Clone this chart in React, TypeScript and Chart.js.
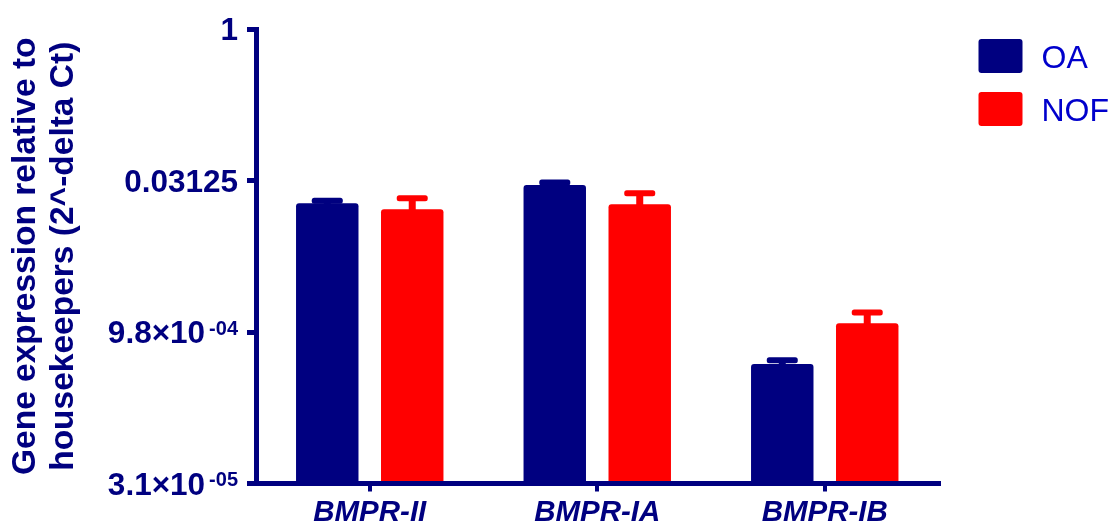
import React, { useEffect, useRef } from 'react';
import { Chart, registerables } from 'chart.js';

Chart.register(...registerables);

const categories = ['BMPR-II', 'BMPR-IA', 'BMPR-IB'];
const seriesLabels = ['OA', 'NOF'];
const oaMeans = [0.01856, 0.0282, 0.000469];
const nofMeans = [0.01623, 0.01814, 0.001193];
const oaUpper = [0.0197, 0.0299, 0.000511];
const nofUpper = [0.0208, 0.0234, 0.001529];
const yTickValues = [1, 0.03125, 0.0009765625, 0.000030517578125];
const yTickMantissas = ['1', '0.03125', '9.8×10', '3.1×10'];
const yTickExponents = ['', '', '-04', '-05'];
const yMin = 0.000030517578125;
const yMax = 1;
const yTitle = ['Gene expression relative to', 'housekeepers (2^-delta Ct)'];

const NAVY = '#000080';
const RED = '#FF0000';
const LEGEND_TEXT = '#0000CC';
const FONT = "'Liberation Sans', Arial, Helvetica, sans-serif";
const seriesColors = [NAVY, RED];
const seriesUpper = [oaUpper, nofUpper];

function roundRect(ctx: CanvasRenderingContext2D, x: number, y: number, w: number, h: number, r: number) {
  ctx.beginPath();
  ctx.moveTo(x + r, y);
  ctx.lineTo(x + w - r, y);
  ctx.arcTo(x + w, y, x + w, y + r, r);
  ctx.lineTo(x + w, y + h - r);
  ctx.arcTo(x + w, y + h, x + w - r, y + h, r);
  ctx.lineTo(x + r, y + h);
  ctx.arcTo(x, y + h, x, y + h - r, r);
  ctx.lineTo(x, y + r);
  ctx.arcTo(x, y, x + r, y, r);
  ctx.closePath();
  ctx.fill();
}

const errorBarPlugin = {
  id: 'errorBars',
  afterDatasetsDraw(chart: any) {
    const ctx: CanvasRenderingContext2D = chart.ctx;
    const yScale = chart.scales.y;
    chart.data.datasets.forEach((_ds: any, di: number) => {
      const meta = chart.getDatasetMeta(di);
      meta.data.forEach((bar: any, i: number) => {
        const ey = yScale.getPixelForValue(seriesUpper[di][i]);
        const top = bar.y;
        ctx.save();
        ctx.fillStyle = seriesColors[di];
        if (top - ey > 0) ctx.fillRect(bar.x - 3.5, ey, 7, top - ey + 1);
        roundRect(ctx, bar.x - 15.5, ey - 3, 31, 6, 2.5);
        ctx.restore();
      });
    });
  },
};

const yLabelPlugin = {
  id: 'yLabels',
  afterDraw(chart: any) {
    const ctx: CanvasRenderingContext2D = chart.ctx;
    const yScale = chart.scales.y;
    const rightX = chart.chartArea.left - 18;
    ctx.save();
    ctx.fillStyle = NAVY;
    ctx.textBaseline = 'alphabetic';
    yTickValues.forEach((v, i) => {
      const py = yScale.getPixelForValue(v);
      const exp = yTickExponents[i];
      ctx.font = `bold 20px ${FONT}`;
      const ew = exp ? ctx.measureText(exp).width : 0;
      ctx.font = `bold 31.5px ${FONT}`;
      ctx.textAlign = 'right';
      ctx.fillText(yTickMantissas[i], rightX - ew - (exp ? 4 : 0), py + 11);
      if (exp) {
        ctx.font = `bold 20px ${FONT}`;
        ctx.textAlign = 'left';
        ctx.fillText(exp, rightX - ew, py + 2.5);
      }
    });
    ctx.restore();
  },
};

const legendPlugin = {
  id: 'sideLegend',
  afterDraw(chart: any) {
    const ctx: CanvasRenderingContext2D = chart.ctx;
    const left = chart.chartArea.right + 40;
    const top0 = chart.chartArea.top + 10;
    ctx.save();
    chart.data.datasets.forEach((ds: any, di: number) => {
      const top = top0 + di * 53;
      ctx.fillStyle = seriesColors[di];
      roundRect(ctx, left, top, 44, 34, 3);
      ctx.fillStyle = LEGEND_TEXT;
      ctx.font = `32px ${FONT}`;
      ctx.textAlign = 'left';
      ctx.textBaseline = 'alphabetic';
      ctx.fillText(ds.label, left + 63, top + 17 + 11.5);
    });
    ctx.restore();
  },
};

export default function App() {
  const canvasRef = useRef<HTMLCanvasElement | null>(null);

  useEffect(() => {
    document.body.style.margin = '0';
    document.body.style.overflow = 'hidden';
    const canvas = canvasRef.current;
    if (!canvas) return;
    const chart = new Chart(canvas, {
      type: 'bar',
      data: {
        labels: categories,
        datasets: [
          {
            label: seriesLabels[0],
            data: oaMeans,
            backgroundColor: NAVY,
            borderRadius: 3,
            borderSkipped: 'start',
            base: yMin,
          },
          {
            label: seriesLabels[1],
            data: nofMeans,
            backgroundColor: RED,
            borderRadius: 3,
            borderSkipped: 'start',
            base: yMin,
          },
        ],
      },
      options: {
        animation: false,
        responsive: true,
        maintainAspectRatio: false,
        datasets: { bar: { categoryPercentage: 0.747, barPercentage: 0.735 } },
        layout: { padding: { top: 29, right: 174.5, bottom: 0, left: 0 } },
        plugins: {
          legend: { display: false },
          tooltip: { enabled: false },
        },
        scales: {
          x: {
            type: 'category',
            afterFit: (scale: any) => {
              scale.height = 41.5;
            },
            border: { display: true, color: NAVY, width: 5 },
            grid: {
              display: true,
              drawOnChartArea: false,
              drawTicks: true,
              tickLength: 8,
              lineWidth: 4,
              color: NAVY,
              offset: false,
            },
            ticks: {
              color: NAVY,
              padding: 4,
              font: { family: FONT, size: 29.5, weight: 'bold', style: 'italic' },
            },
          },
          y: {
            type: 'logarithmic',
            min: yMin,
            max: yMax,
            afterBuildTicks: (scale: any) => {
              scale.ticks = yTickValues.map((v) => ({ value: v }));
            },
            afterFit: (scale: any) => {
              scale.width = 256;
            },
            border: { display: true, color: NAVY, width: 5 },
            grid: {
              display: true,
              drawOnChartArea: false,
              drawTicks: true,
              tickLength: 9,
              lineWidth: 5,
              color: NAVY,
            },
            ticks: { display: false },
            title: {
              display: true,
              text: yTitle,
              color: NAVY,
              padding: { top: 6.6, bottom: 0 },
              font: { family: FONT, size: 33.5, weight: 'bold', lineHeight: 38 / 33.5 },
            },
          },
        },
      },
      plugins: [errorBarPlugin, yLabelPlugin, legendPlugin],
    } as any);
    return () => chart.destroy();
  }, []);

  return (
    <div style={{ position: 'relative', width: '1113px', height: '525px' }}>
      <canvas ref={canvasRef} />
    </div>
  );
}
